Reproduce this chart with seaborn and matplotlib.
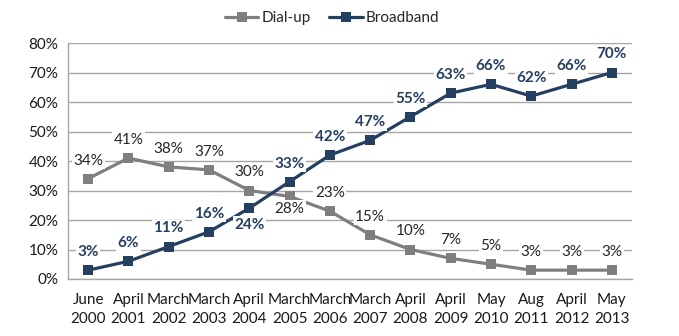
import matplotlib
matplotlib.use("Agg")
import matplotlib.pyplot as plt
import seaborn as sns
import pandas as pd
from matplotlib.ticker import FuncFormatter, FixedLocator

categories = ["June\n2000", "April\n2001", "March\n2002", "March\n2003", "April\n2004",
              "March\n2005", "March\n2006", "March\n2007", "April\n2008", "April\n2009",
              "May\n2010", "Aug\n2011", "April\n2012", "May\n2013"]
dialup = [34, 41, 38, 37, 30, 28, 23, 15, 10, 7, 5, 3, 3, 3]
broadband = [3, 6, 11, 16, 24, 33, 42, 47, 55, 63, 66, 62, 66, 70]
series_names = ["Dial-up", "Broadband"]

# label placement: +1 above, -1 below
dialup_pos = [1, 1, 1, 1, 1, -1, 1, 1, 1, 1, 1, 1, 1, 1]
broadband_pos = [1, 1, 1, 1, -1, 1, 1, 1, 1, 1, 1, 1, 1, 1]

sns.set_style("white")
plt.rcParams['font.family'] = ['Lato', 'DejaVu Sans']

GREY = "#7f7f7f"
NAVY = "#243f60"

df = pd.DataFrame({
    "idx": list(range(len(categories))) * 2,
    "value": dialup + broadband,
    "series": [series_names[0]] * len(dialup) + [series_names[1]] * len(broadband),
})

fig = plt.figure(figsize=(6.79, 3.36), dpi=100)
ax = fig.add_axes([68 / 679, 1 - 279 / 336, (632 - 68) / 679, (279 - 43) / 336])

sns.lineplot(data=df, x="idx", y="value", hue="series", palette=[GREY, NAVY],
             marker="s", markersize=6.5, markeredgewidth=0, linewidth=2.3, ax=ax,
             legend=True, zorder=3)

ax.set_xlim(-0.5, len(categories) - 0.5)
ax.set_ylim(0, 80)
ax.set_yticks(range(0, 81, 10))
ax.yaxis.set_major_formatter(FuncFormatter(lambda v, p: f"{v:.0f}%"))
ax.grid(axis="y", color="#a6a6a6", linewidth=1.0, zorder=0)
ax.set_axisbelow(True)

ax.xaxis.set_major_locator(FixedLocator([i - 0.5 for i in range(len(categories) + 1)]))
ax.xaxis.set_minor_locator(FixedLocator(list(range(len(categories)))))
ax.set_xticklabels([])
ax.set_xticklabels(categories, minor=True)
ax.tick_params(axis="x", which="major", length=5, width=1, color="#a6a6a6", direction="out")
ax.tick_params(axis="x", which="minor", length=0, pad=10, labelsize=11, labelcolor="#1a1a1a")
ax.tick_params(axis="y", length=4, width=1, color="#a6a6a6", direction="out", labelsize=11,
               labelcolor="#1a1a1a", pad=3)
for lbl in ax.get_xticklabels(minor=True):
    lbl.set_linespacing(1.5)
ax.set_xlabel("")
ax.set_ylabel("")

for s in ["top", "right"]:
    ax.spines[s].set_visible(False)
for s in ["left", "bottom"]:
    ax.spines[s].set_color("#a6a6a6")
    ax.spines[s].set_linewidth(1.0)

bbox = dict(boxstyle="square,pad=0.1", facecolor="white", edgecolor="none")
for i, (v, p) in enumerate(zip(dialup, dialup_pos)):
    off = 13 if p > 0 else -9
    ax.annotate(f"{v}%", (i, v), xytext=(0, off), textcoords="offset points",
                ha="center", va="center", fontsize=11, color="#262626", bbox=bbox, zorder=4)
for i, (v, p) in enumerate(zip(broadband, broadband_pos)):
    off = 13 if p > 0 else -12
    ax.annotate(f"{v}%", (i, v), xytext=(0, off), textcoords="offset points",
                ha="center", va="center", fontsize=11, color=NAVY, fontweight="bold",
                bbox=bbox, zorder=4)

handles, labels = ax.get_legend_handles_labels()
ax.legend(handles, labels, loc="center", bbox_to_anchor=(332 / 679, 1 - 18 / 336),
          bbox_transform=fig.transFigure, ncol=2, frameon=False, fontsize=11,
          handlelength=2.2, handletextpad=0.2, columnspacing=1.2)

fig.savefig("out.png", dpi=100)
